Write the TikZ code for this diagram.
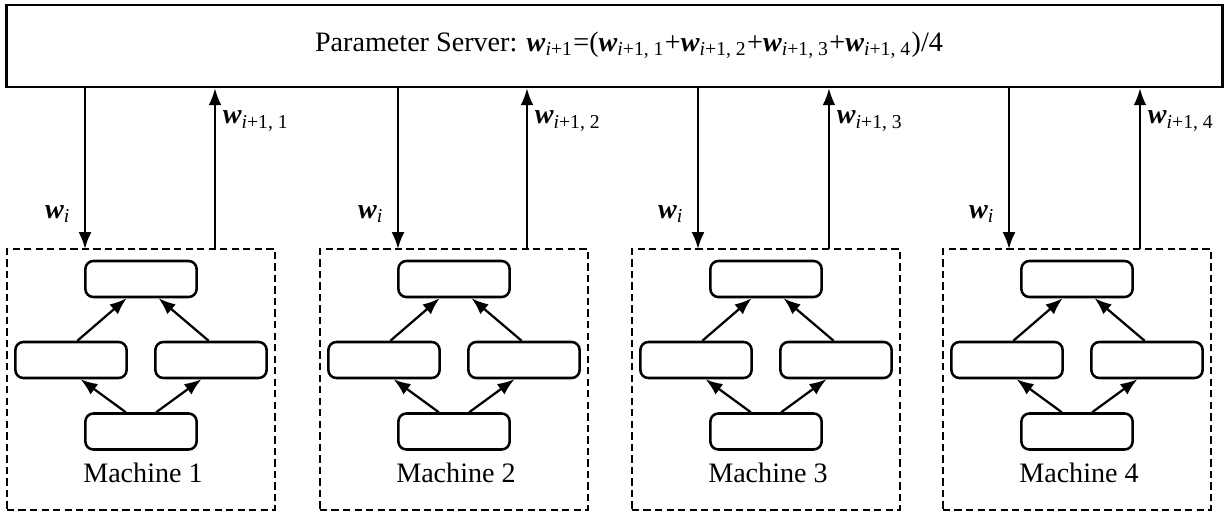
\documentclass[tikz,border=0pt]{standalone}
\usepackage{fontspec}
\setmainfont{Liberation Serif}
\usetikzlibrary{arrows.meta,positioning}

\newcommand{\wv}{\textbf{\textit{w}}}
\newcommand{\wsub}[1]{\wv\textsubscript{#1}}

\begin{document}
\begin{tikzpicture}[x=0.0125cm, y=-0.0125cm,
  layer/.style={draw, line width=0.9pt, rounded corners=0.1cm, minimum width=1.39cm, minimum height=0.45cm, inner sep=0pt},
  machine/.style={draw, line width=0.8pt, dash pattern=on 2.6pt off 1.5pt, minimum width=3.35cm, minimum height=3.26cm, inner sep=0pt},
  arr/.style={line width=0.8pt, -{Latex[length=6pt, width=4.6pt]}}]

  \useasboundingbox (0,0) rectangle (1228,515);

  % parameter server
  \node[draw, line width=0.9pt, minimum width=15.19cm, minimum height=1.025cm, inner sep=0pt] (ps) at (614.5,46) {};
  \node (pstext) at (629,45) {Parameter Server: \wsub{\textit{i}+1}=(\wsub{\textit{i}+1, 1}+\wsub{\textit{i}+1, 2}+\wsub{\textit{i}+1, 3}+\wsub{\textit{i}+1, 4})/4};

  \foreach \n/\cx/\din/\dout in {1/141/85/215, 2/454/398/527, 3/766/698/829, 4/1077/1009/1140} {
    \node[machine] (m\n) at (\cx,379.5) {};
    \node[layer] (top\n) at (\cx,279) {};
    \node[layer] (ml\n) at (\cx-70,360) {};
    \node[layer] (mr\n) at (\cx+70,360) {};
    \node[layer] (bot\n) at (\cx,431.5) {};
    \node (lab\n) at (\cx+2,473) {Machine \n};

    \draw[arr] ([xshift=-0.19cm]bot\n.north) -- ([xshift=0.12cm]ml\n.south);
    \draw[arr] ([xshift=0.19cm]bot\n.north) -- ([xshift=-0.12cm]mr\n.south);
    \draw[arr] ([xshift=0.08cm]ml\n.north) -- ([xshift=-0.18cm]top\n.south);
    \draw[arr] ([xshift=-0.03cm]mr\n.north) -- ([xshift=0.22cm]top\n.south);

    % links to the server
    \coordinate (in\n) at (\din,249);
    \coordinate (out\n) at (\dout,249);
    \draw[arr] (in\n |- ps.south) -- (in\n);
    \draw[arr] (out\n) -- (out\n |- ps.south);
    \node (win\n) at (\din-27,214) {\wsub{\textit{i}}};
    \node (wout\n) at (\dout+41,121) {\wsub{\textit{i}+1, \n}};
  }

\end{tikzpicture}
\end{document}
